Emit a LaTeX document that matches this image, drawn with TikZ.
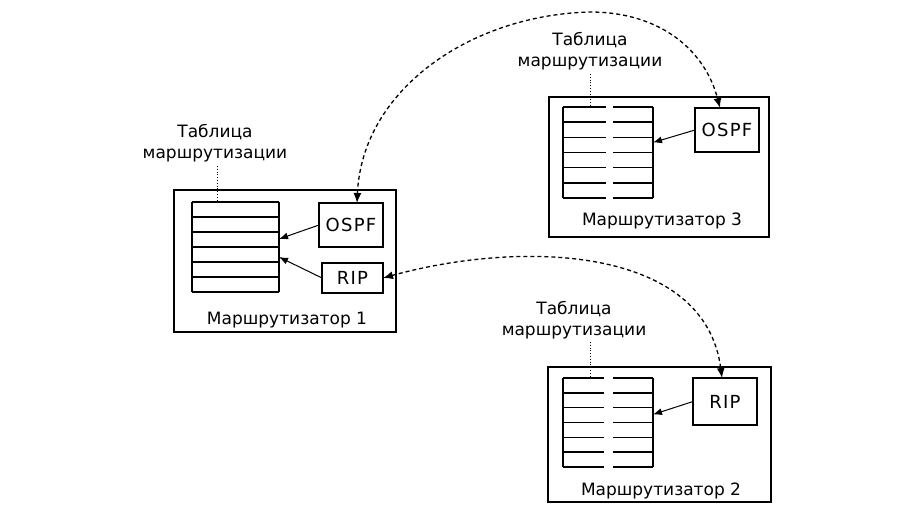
\documentclass[tikz,border=0pt]{standalone}
\usepackage{fontspec}
\setmainfont{DejaVu Sans}
\newfontfamily\widefont[LetterSpace=7]{DejaVu Sans}
\usetikzlibrary{arrows.meta}
\tikzset{
  router/.style={draw, line width=1.8pt, inner sep=0pt, outer sep=0pt, anchor=north west},
  tablebox/.style={draw=none, inner sep=0pt, outer sep=0pt, anchor=north west},
  protobox/.style={draw, line width=1.3pt, inner sep=0pt, outer sep=0pt, anchor=north west, font=\widefont\fontsize{18}{20}\selectfont},
  lbl/.style={font=\fontsize{17}{21}\selectfont, inner sep=0pt, align=center},
  tline/.style={line width=1.5pt},
  inarrow/.style={line width=1pt, -{Latex[length=9pt,width=7pt]}},
  link/.style={line width=1.3pt, dash pattern=on 4pt off 3pt, {Latex[length=10pt,width=8pt]}-{Latex[length=10pt,width=8pt]}},
  leader/.style={line width=0.8pt, dotted}
}
\begin{document}
\begin{tikzpicture}[x=1pt,y=-1pt]
\useasboundingbox (0,0) rectangle (912,506);

% ---------- Router 1 ----------
\node[router, minimum width=222pt, minimum height=142pt] (r1) at (174,190) {};
\node[tablebox, minimum width=87pt, minimum height=90pt] (t1) at (192,202) {};
\draw[tline] (192,202) -- (192,292);
\draw[tline] (279,202) -- (279,292);
\foreach \k in {0,...,6} \draw[tline] (192,202+15*\k) -- (279,202+15*\k);
\node[protobox, minimum width=64pt, minimum height=44pt] (o1) at (319,203) {OSPF};
\node[protobox, minimum width=61pt, minimum height=30pt] (p1) at (322,263) {RIP};
\draw[inarrow] (o1.west) -- ([yshift=8pt]t1.east);
\draw[inarrow] (p1.west) -- ([yshift=-10pt]t1.east);
\node[lbl] (r1lab) at (287,320) {Маршрутизатор 1};
\node[lbl] (t1lab) at (215,143) {Таблица\\маршрутизации};
\draw[leader] (217,166) -- (217,202);

% ---------- Router 3 ----------
\node[router, minimum width=220pt, minimum height=140pt] (r3) at (549,97) {};
\node[tablebox, minimum width=90pt, minimum height=91pt] (t3) at (563,107) {};
\draw[tline] (563,107) -- (563,198);
\draw[tline] (653,107) -- (653,198);
\foreach \k in {0,...,6} {
  \draw[tline] (563,107+15.17*\k) -- (606,107+15.17*\k);
  \draw[tline] (613,107+15.17*\k) -- (653,107+15.17*\k);
}
\node[protobox, minimum width=64pt, minimum height=44pt] (o3) at (695,108) {OSPF};
\draw[inarrow] (o3.west) -- ([yshift=10pt]t3.east);
\node[lbl] (r3lab) at (662,221) {Маршрутизатор 3};
\node[lbl] (t3lab) at (590,51) {Таблица\\маршрутизации};
\draw[leader] (590,74) -- (590,107);

% ---------- Router 2 ----------
\node[router, minimum width=223pt, minimum height=135pt] (r2) at (548,367) {};
\node[tablebox, minimum width=90pt, minimum height=89pt] (t2) at (563,378) {};
\draw[tline] (563,378) -- (563,467);
\draw[tline] (653,378) -- (653,467);
\foreach \k in {0,...,6} {
  \draw[tline] (563,378+14.83*\k) -- (604,378+14.83*\k);
  \draw[tline] (613,378+14.83*\k) -- (653,378+14.83*\k);
}
\node[protobox, minimum width=64pt, minimum height=47pt] (p2) at (693,378) {RIP};
\draw[inarrow] (p2.west) -- ([yshift=8pt]t2.east);
\node[lbl] (r2lab) at (661,491) {Маршрутизатор 2};
\node[lbl] (t2lab) at (574,320) {Таблица\\маршрутизации};
\draw[leader] (590,342) -- (590,378);

% ---------- Links between routers ----------
\draw[link] ([xshift=6pt]o1.north) .. controls (362,90) and (470,15) .. (590,12)
            .. controls (660,12) and (705,50) .. ([xshift=-7pt]o3.north);
\draw[link] (p1.east) .. controls (520,240) and (705,245) .. ([xshift=-3pt]p2.north);
\end{tikzpicture}
\end{document}
